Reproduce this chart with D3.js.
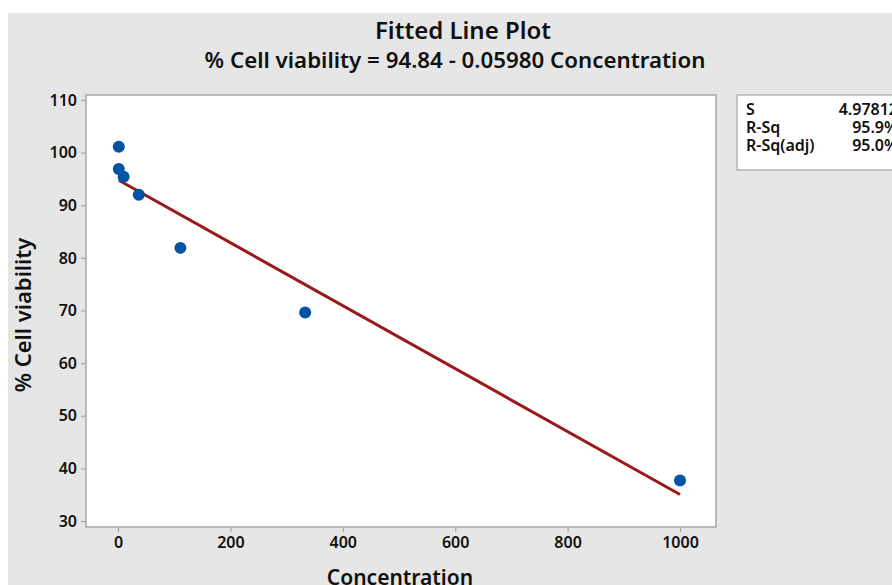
<!DOCTYPE html>
<html>
<head>
<meta charset="utf-8">
<script src="https://cdn.jsdelivr.net/npm/d3@7"></script>
<style>
  body { margin: 0; background: #ffffff; }
  text { font-family: "Noto Sans", "Open Sans", sans-serif; fill: #111; }
</style>
</head>
<body>
<div id="chart"></div>
<script>
// data
const concentration = [1.4, 1.4, 10, 37, 111, 333, 1000];
const viability = [101.1, 96.9, 95.4, 92.0, 81.9, 69.6, 37.7];

// fit: % Cell viability = 94.84 - 0.05980 Concentration
const intercept = 94.84;
const slope = -0.05980;

const xTicks = [0, 200, 400, 600, 800, 1000];
const yTicks = [30, 40, 50, 60, 70, 80, 90, 100, 110];

const statLabels = ["S", "R-Sq", "R-Sq(adj)"];
const statValues = ["4.97812", "95.9%", "95.0%"];

const svgWidth = 892;
const svgHeight = 585;

const svg = d3.select("#chart")
  .append("svg")
  .attr("width", svgWidth)
  .attr("height", svgHeight);

// grey panel
svg.append("rect")
  .attr("x", 8).attr("y", 13)
  .attr("width", svgWidth - 8).attr("height", svgHeight - 13)
  .attr("fill", "#e6e6e6");

// plot frame
const frame = { left: 86, top: 95, right: 716, bottom: 527 };

svg.append("rect")
  .attr("x", frame.left).attr("y", frame.top)
  .attr("width", frame.right - frame.left)
  .attr("height", frame.bottom - frame.top)
  .attr("fill", "#fff")
  .attr("stroke", "#a6a6a6")
  .attr("stroke-width", 1.5);

const xScale = d3.scaleLinear()
  .domain([0, 1000])
  .range([118, 680]);

const yScale = d3.scaleLinear()
  .domain([30, 110])
  .range([521, 100]);

// axes
const xAxis = svg.append("g")
  .attr("transform", `translate(0, ${frame.bottom})`)
  .call(d3.axisBottom(xScale).tickValues(xTicks).tickSize(5).tickPadding(5).tickFormat(d3.format("d")));

const yAxis = svg.append("g")
  .attr("transform", `translate(${frame.left}, 0)`)
  .call(d3.axisLeft(yScale).tickValues(yTicks).tickSize(5).tickPadding(4));

[xAxis, yAxis].forEach(ax => {
  ax.select(".domain").remove();
  ax.selectAll("line").attr("stroke", "#a6a6a6").attr("stroke-width", 1.2);
  ax.selectAll("text")
    .attr("font-size", "16px")
    .attr("font-weight", 600)
    .attr("fill", "#111");
});

// fitted line
const xMin = d3.min(concentration);
const xMax = d3.max(concentration);
const fitLine = [xMin, xMax].map(x => [x, intercept + slope * x]);

svg.append("path")
  .datum(fitLine)
  .attr("d", d3.line().x(d => xScale(d[0])).y(d => yScale(d[1])))
  .attr("fill", "none")
  .attr("stroke", "#9a1a1a")
  .attr("stroke-width", 3);

// points
svg.append("g")
  .selectAll("circle")
  .data(concentration)
  .enter()
  .append("circle")
  .attr("cx", (d, i) => xScale(d))
  .attr("cy", (d, i) => yScale(viability[i]))
  .attr("r", 6)
  .attr("fill", "#0054a6");

// titles
svg.append("text")
  .attr("x", 463).attr("y", 39)
  .attr("text-anchor", "middle")
  .attr("font-size", "24px")
  .attr("font-weight", 600)
  .text("Fitted Line Plot");

svg.append("text")
  .attr("x", 455).attr("y", 68)
  .attr("text-anchor", "middle")
  .attr("font-size", "22.3px")
  .attr("font-weight", 600)
  .text("% Cell viability = 94.84 - 0.05980 Concentration");

svg.append("text")
  .attr("x", 400).attr("y", 585)
  .attr("text-anchor", "middle")
  .attr("font-size", "21px")
  .attr("font-weight", 600)
  .text("Concentration");

svg.append("text")
  .attr("transform", "translate(31, 315) rotate(-90)")
  .attr("text-anchor", "middle")
  .attr("font-size", "22px")
  .attr("font-weight", 600)
  .text("% Cell viability");

// stats box
const box = svg.append("g");
box.append("rect")
  .attr("x", 737).attr("y", 95)
  .attr("width", 170).attr("height", 75)
  .attr("fill", "#fff")
  .attr("stroke", "#a6a6a6")
  .attr("stroke-width", 1.2);

statLabels.forEach((lab, i) => {
  box.append("text")
    .attr("x", 746).attr("y", 115 + i * 18)
    .attr("font-size", "16px")
    .attr("font-weight", 600)
    .text(lab);
  box.append("text")
    .attr("x", 898).attr("y", 115 + i * 18)
    .attr("text-anchor", "end")
    .attr("font-size", "16px")
    .attr("font-weight", 600)
    .text(statValues[i]);
});
</script>
</body>
</html>
